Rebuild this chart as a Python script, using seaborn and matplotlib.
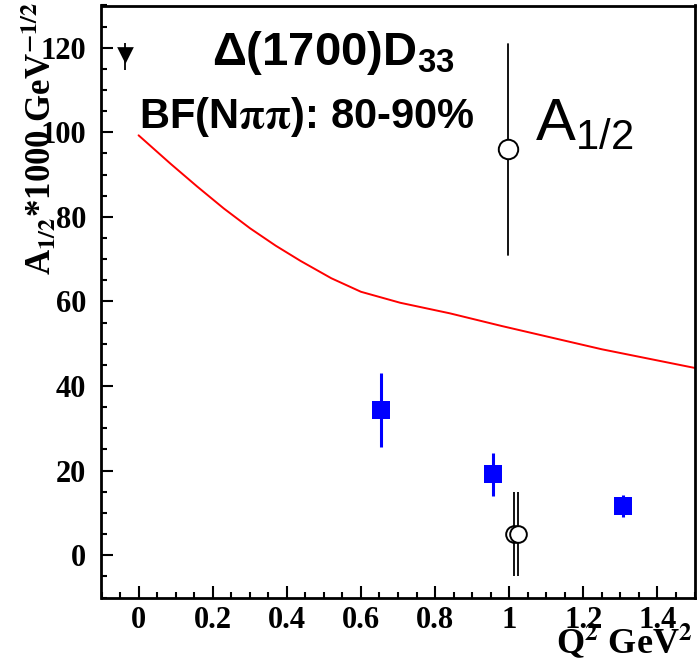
import matplotlib
matplotlib.use("Agg")
import matplotlib.pyplot as plt
from matplotlib.ticker import FixedLocator, MultipleLocator
import seaborn as sns

# Model curve A1/2(Q^2)
curve_q2 = [0.0, 0.086, 0.158, 0.23, 0.301, 0.37, 0.437, 0.52, 0.60, 0.706,
            0.84, 0.98, 1.25, 1.50]
curve_a = [99.3, 92.6, 87.2, 82.0, 77.3, 73.2, 69.6, 65.5, 62.3, 59.7,
           57.2, 54.2, 48.7, 44.3]

# CLAS Nππ points (blue squares)
clas_q2 = [0.655, 0.955, 1.307]
clas_a = [34.4, 19.1, 11.6]
clas_err = [8.8, 5.0, 2.6]

# Other analyses (open circles)
open_q2 = [1.014, 1.024]
open_a = [5.0, 5.0]
open_err = [10.0, 10.0]

# Photon point (down triangle)
photo_q2 = [-0.037]
photo_a = [118.3]
photo_err_lo = [3.5]
photo_err_hi = [2.9]

xticks = [0, 0.2, 0.4, 0.6, 0.8, 1.0, 1.2, 1.4]
xticklabels = ["0", "0.2", "0.4", "0.6", "0.8", "1", "1.2", "1.4"]
yticks = [0, 20, 40, 60, 80, 100, 120]
yticklabels = ["0", "20", "40", "60", "80", "100", "120"]

sns.set_theme(style="ticks")
plt.rcParams["font.family"] = ["Liberation Serif", "DejaVu Sans"]
plt.rcParams["mathtext.fontset"] = "custom"
plt.rcParams["mathtext.rm"] = "Liberation Sans"
plt.rcParams["mathtext.bf"] = "Liberation Sans:bold"
plt.rcParams["mathtext.it"] = "Liberation Sans:italic"

W, H = 698, 661
fig = plt.figure(figsize=(W / 100, H / 100), dpi=100)
ax = fig.add_axes([101.5 / W, 1 - 597.5 / H, 593 / W, 592 / H])
ax.set_facecolor("white")

sns.lineplot(x=curve_q2, y=curve_a, color="#ff0000", lw=1.4, ax=ax, zorder=2)

ax.errorbar(clas_q2, clas_a, yerr=clas_err, fmt="none", ecolor="#0000ff",
            elinewidth=2.2, capsize=0, zorder=3)
sns.scatterplot(x=clas_q2, y=clas_a, marker="s", s=13 ** 2, color="#0000ff",
                edgecolor="#0000ff", linewidth=0, ax=ax, zorder=4)

ax.errorbar(open_q2, open_a, yerr=open_err, fmt="none", ecolor="black",
            elinewidth=1.3, capsize=0, zorder=3)
sns.scatterplot(x=open_q2, y=open_a, marker="o", s=12 ** 2, facecolor="white",
                edgecolor="black", linewidth=1.4, ax=ax, zorder=4)

ax.errorbar(photo_q2, photo_a, yerr=[photo_err_lo, photo_err_hi], fmt="none",
            ecolor="black", elinewidth=1.3, capsize=0, zorder=3)
sns.scatterplot(x=photo_q2, y=photo_a, marker="v", s=12 ** 2, color="black",
                edgecolor="black", linewidth=0, ax=ax, zorder=4)

# Legend key for the open-circle series
ax.plot([0.6855, 0.6855], [0.5785, 0.935], color="black", lw=1.3,
        transform=ax.transAxes, zorder=3)
ax.plot([0.6855], [0.7576], marker="o", ms=14, mfc="white", mec="black",
        mew=1.4, transform=ax.transAxes, zorder=4)

ax.set_xlim(-0.1, 1.5)
ax.set_ylim(-10, 130)
ax.set_xlabel("")
ax.set_ylabel("")
ax.xaxis.set_major_locator(FixedLocator(xticks))
ax.set_xticklabels(xticklabels)
ax.yaxis.set_major_locator(FixedLocator(yticks))
ax.set_yticklabels(yticklabels)
ax.xaxis.set_minor_locator(MultipleLocator(0.05))
ax.yaxis.set_minor_locator(MultipleLocator(5))
ax.tick_params(which="both", direction="in", width=1.5, color="black",
               top=False, right=False)
ax.tick_params(which="major", length=8.6)
ax.tick_params(which="minor", length=4.3)
ax.tick_params(axis="x", which="major", pad=6)
ax.tick_params(axis="y", which="major", pad=11)
for lab in ax.get_xticklabels() + ax.get_yticklabels():
    lab.set_fontfamily("Liberation Serif")
    lab.set_fontweight("bold")
    lab.set_fontsize(22)
    lab.set_color("black")
for sp in ax.spines.values():
    sp.set_visible(True)
    sp.set_linewidth(2.0)
    sp.set_color("black")

# Axis titles
fig.text(50 / W, 1 - 275 / H, r"A$_{\mathbf{1/2}}$*1000 GeV$^{\mathbf{-1/2}}$",
         rotation=90, rotation_mode="anchor", ha="left", va="baseline",
         fontfamily="Liberation Serif", fontweight="bold", fontsize=25,
         math_fontfamily="stix", color="black")
fig.text(693 / W, 1 - 653 / H, r"Q$^{\mathbf{2}}$ GeV$^{\mathbf{2}}$",
         ha="right", va="baseline", fontfamily="Liberation Serif",
         fontweight="bold", fontsize=26, math_fontfamily="stix", color="black")

# Resonance labels
fig.text(212 / W, 1 - 65 / H, r"Δ(1700)D$_{\mathbf{33}}$", ha="left", va="baseline",
         fontfamily="Liberation Sans", fontweight="bold", fontsize=34,
         math_fontfamily="custom", color="black")
fig.text(475 / W, 1 - 128 / H, r"BF(N$\mathbf{\pi\pi}$): 80-90%", ha="right",
         va="baseline", fontfamily="Liberation Sans", fontweight="bold",
         fontsize=30, math_fontfamily="stix", color="black")
fig.text(535 / W, 1 - 140 / H, r"A$_{\mathrm{1/2}}$", ha="left", va="baseline",
         fontfamily="Liberation Sans", fontsize=43, math_fontfamily="custom",
         color="black")

fig.savefig("out.png", dpi=100, facecolor="white")
